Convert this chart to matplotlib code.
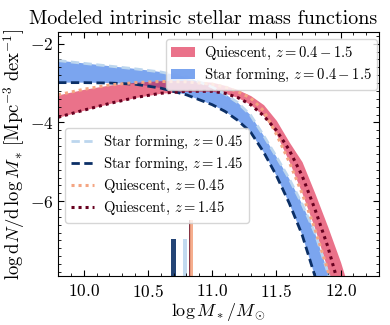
import numpy as np
import matplotlib
matplotlib.use("Agg")
import matplotlib.pyplot as plt
from matplotlib.patches import Patch
from matplotlib.lines import Line2D
from matplotlib.ticker import MultipleLocator

plt.rcParams["font.family"] = "serif"
plt.rcParams["font.serif"] = ["cmr10"]
plt.rcParams["mathtext.fontset"] = "cm"
plt.rcParams["axes.formatter.use_mathtext"] = True
plt.rcParams["axes.unicode_minus"] = True

# -------------------------------
# data
# -------------------------------
logm = [9.8, 10.0, 10.2, 10.4, 10.6, 10.8, 11.0, 11.1, 11.2, 11.3, 11.4,
        11.5, 11.6, 11.7, 11.8, 11.9, 12.0, 12.1]

sf_z045 = [-2.43, -2.50, -2.57, -2.64, -2.72, -2.85, -3.10, -3.28, -3.50, -3.82,
           -4.33, -4.87, -5.43, -6.07, -6.80, -7.80, -8.80, -9.9]
sf_z145 = [-2.99, -2.99, -3.00, -3.03, -3.13, -3.30, -3.55, -3.72, -3.95, -4.25,
           -4.75, -5.35, -6.05, -6.85, -7.90, -9.00, -10.0, -11.0]
q_z045 = [-3.30, -3.16, -3.05, -2.99, -2.96, -2.97, -3.03, -3.10, -3.22, -3.38,
          -3.70, -4.30, -5.00, -5.80, -6.70, -7.75, -8.90, -10.0]
q_z145 = [-3.87, -3.69, -3.52, -3.37, -3.26, -3.21, -3.21, -3.26, -3.37, -3.55,
          -3.83, -4.20, -4.70, -5.35, -6.20, -7.15, -8.30, -9.5]

# quiescent envelope over z = 0.4 - 1.5
q_band_hi = [-3.30, -3.16, -3.05, -2.98, -2.94, -2.93, -2.98, -3.06, -3.17, -3.32,
             -3.55, -3.95, -4.50, -5.00, -5.80, -6.65, -7.55, -8.60]
q_band_lo = [-3.87, -3.69, -3.52, -3.37, -3.26, -3.21, -3.21, -3.26, -3.37, -3.55,
             -3.83, -4.30, -5.00, -5.80, -6.70, -7.75, -8.90, -10.0]

# characteristic masses (markers at the bottom)
mstar_pos = [10.70, 10.79, 10.825, 10.842]
mstar_top = [-6.96, -6.96, -6.48, -6.48]
mstar_col = ["#0b2f66", "#bcd6ee", "#7a1e2e", "#f4a582"]
mstar_w = [0.035, 0.035, 0.018, 0.022]

ybot = -7.9

DASH = (0, (3, 1.6))
DOT = (0, (1, 1.3))

# -------------------------------
# plot
# -------------------------------
fig = plt.figure(figsize=(3.9, 3.25), dpi=100)
ax = fig.add_axes([0.149, 0.151, 0.823, 0.751])

ax.fill_between(logm, sf_z145, sf_z045, color="cornflowerblue", alpha=0.85, lw=0)
ax.fill_between(logm, q_band_lo, q_band_hi, color="crimson", alpha=0.6, lw=0)

ax.plot(logm, sf_z045, color="#bcd6ee", ls=DASH, lw=2)
ax.plot(logm, sf_z145, color="#0b2f66", ls=DASH, lw=2)
ax.plot(logm, q_z045, color="#f4a582", ls=DOT, lw=2.2)
ax.plot(logm, q_z145, color="#67001f", ls=DOT, lw=2.2)

for p, t, c, w in zip(mstar_pos, mstar_top, mstar_col, mstar_w):
    ax.bar(p, t - ybot, bottom=ybot, width=w, color=c, alpha=0.9, lw=0)

ax.set_xlim(9.8, 12.3)
ax.set_ylim(ybot, -1.7)
ax.xaxis.set_major_locator(MultipleLocator(0.5))
ax.xaxis.set_minor_locator(MultipleLocator(0.1))
ax.yaxis.set_major_locator(MultipleLocator(2))
ax.yaxis.set_minor_locator(MultipleLocator(0.2))
ax.tick_params(which="both", direction="in", top=True, right=True, labelsize=12.5)
ax.tick_params(axis="x", pad=5)
ax.tick_params(which="major", length=4)
ax.tick_params(which="minor", length=2)

ax.set_xlabel(r"$\log M_*/M_\odot$", fontsize=13, labelpad=1)
ax.set_ylabel(r"$\log \mathrm{d}N/\mathrm{d}\,\log M_*\,[\mathrm{Mpc}^{-3}\;\mathrm{dex}^{-1}]$",
              fontsize=13.5, labelpad=2)
ax.set_title("Modeled intrinsic stellar mass functions", fontsize=14.5, pad=6, x=0.453)

h1 = [Patch(color="crimson", alpha=0.6, lw=0), Patch(color="cornflowerblue", alpha=0.85, lw=0)]
leg1 = ax.legend(h1, [r"Quiescent, $z=0.4-1.5$", r"Star forming, $z=0.4-1.5$"],
                 loc="upper right", bbox_to_anchor=(0.994, 0.971), borderaxespad=0,
                 fontsize=10.5, handlelength=1.6, handletextpad=0.6, labelspacing=0.35)
ax.add_artist(leg1)

h2 = [Line2D([], [], color="#bcd6ee", ls=DASH, lw=2),
      Line2D([], [], color="#0b2f66", ls=DASH, lw=2),
      Line2D([], [], color="#f4a582", ls=DOT, lw=2.2),
      Line2D([], [], color="#67001f", ls=DOT, lw=2.2)]
ax.legend(h2, [r"Star forming, $z=0.45$", r"Star forming, $z=1.45$",
               r"Quiescent, $z=0.45$", r"Quiescent, $z=1.45$"],
          loc="upper left", bbox_to_anchor=(0.022, 0.607), borderaxespad=0,
          fontsize=10.5, handlelength=1.6, handletextpad=0.6, labelspacing=0.35)

fig.savefig("out.png", dpi=100)
